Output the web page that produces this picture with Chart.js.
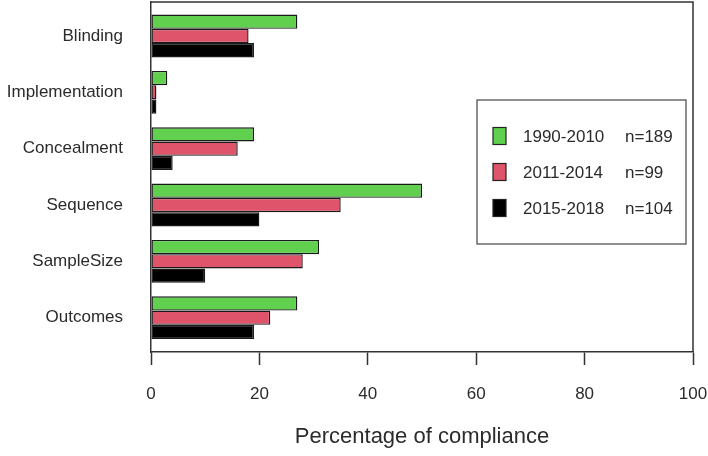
<!DOCTYPE html>
<html>
<head>
<meta charset="utf-8">
<script src="https://cdn.jsdelivr.net/npm/chart.js@4"></script>
<style>
  html, body { margin: 0; padding: 0; background: #fff; }
  #wrap { width: 708px; height: 456px; }
</style>
</head>
<body>
<div id="wrap"><canvas id="chart"></canvas></div>
<script>
/* data */
var categories = ["Blinding", "Implementation", "Concealment", "Sequence", "SampleSize", "Outcomes"];
var periods = ["1990-2010", "2011-2014", "2015-2018"];
var counts = ["n=189", "n=99", "n=104"];
var values1990 = [27, 3, 19, 50, 31, 27];
var values2011 = [18, 1, 16, 35, 28, 22];
var values2015 = [19, 1, 4, 20, 10, 19];
var xTicks = [0, 20, 40, 60, 80, 100];

var colors = ["#61D04F", "#DF536B", "#000000"];
var seriesValues = [values1990, values2011, values2015];

var textColor = "#2b2b2b";
var lineColor = "#333333";
var fontName = "'Liberation Sans', Arial, sans-serif";

// linear index axis so the plot box can extend past the groups like R
const toPoints = (vals) => vals.map(function(v, i) { return { x: v, y: i }; });

var datasets = [];
for (var s = 0; s < periods.length; s++) {
    datasets.push({
        label: periods[s],
        data: toPoints(seriesValues[s]),
        backgroundColor: colors[s],
        borderColor: "#1a1a1a",
        borderWidth: 1.4,
        borderSkipped: false,
        categoryPercentage: 0.76,
        barPercentage: 1.0
    });
}

/* box round the plot + legend inside */
var frameLegend = {
    id: "frameLegend",
    afterDraw: function(chart) {
        var ctx = chart.ctx;
        var a = chart.chartArea;
        ctx.save();
        ctx.strokeStyle = lineColor;
        ctx.lineWidth = 1.5;
        ctx.beginPath();
        ctx.moveTo(a.left, a.top);
        ctx.lineTo(a.right, a.top);
        ctx.lineTo(a.right, a.bottom);
        ctx.stroke();

        // legend
        ctx.lineWidth = 1.2;
        ctx.strokeStyle = "#444";
        ctx.fillStyle = "#fff";
        ctx.fillRect(477, 100, 209, 144);
        ctx.strokeRect(477, 100, 209, 144);

        ctx.font = "17px " + fontName;
        ctx.textBaseline = "middle";
        ctx.textAlign = "left";
        var rows = [136, 172, 208];
        chart.data.datasets.forEach(function(ds, i) {
            var y = rows[i];
            ctx.fillStyle = ds.backgroundColor;
            ctx.fillRect(493, y - 8.5, 13, 17);
            ctx.strokeStyle = "#222";
            ctx.lineWidth = 1.2;
            ctx.strokeRect(493, y - 8.5, 13, 17);
            ctx.fillStyle = textColor;
            ctx.fillText(ds.label, 523, y + 1);
            ctx.fillText(counts[i], 625, y + 1);
        });
        ctx.restore();
    }
};

window.onload = function() {
    var ctx = document.getElementById("chart").getContext("2d");
    window.theChart = new Chart(ctx, {
        type: "bar",
        data: { datasets: datasets },
        options: {
            indexAxis: "y",
            responsive: true,
            maintainAspectRatio: false,
            animation: false,
            layout: { padding: { top: 2, right: 15, left: 0, bottom: 0 } },
            plugins: {
                legend: { display: false },
                tooltip: { enabled: false }
            },
            scales: {
                x: {
                    type: "linear",
                    min: 0,
                    max: 100,
                    afterBuildTicks: function(scale) {
                        scale.ticks = xTicks.map(function(v) { return { value: v }; });
                    },
                    afterFit: function(scale) {
                        scale.height = 104;
                        scale.paddingLeft = 0;
                        scale.paddingRight = 0;
                    },
                    grid: {
                        drawOnChartArea: false,
                        tickLength: 13,
                        tickColor: lineColor,
                        tickWidth: 1.5
                    },
                    border: { color: lineColor, width: 1.5 },
                    ticks: {
                        color: textColor,
                        font: { family: fontName, size: 17 },
                        padding: 19,
                        maxRotation: 0
                    },
                    title: {
                        display: true,
                        text: "Percentage of compliance",
                        color: textColor,
                        font: { family: fontName, size: 22 },
                        padding: { top: 0, bottom: 6 }
                    }
                },
                y: {
                    type: "linear",
                    reverse: true,
                    offset: false,
                    min: -0.603,
                    max: 5.609,
                    afterFit: function(scale) {
                        scale.width = 151;
                        scale.paddingTop = 0;
                        scale.paddingBottom = 0;
                    },
                    grid: { display: false, drawTicks: false, offset: false },
                    border: { color: lineColor, width: 1.5 },
                    ticks: {
                        stepSize: 1,
                        includeBounds: false,
                        autoSkip: false,
                        padding: 28,
                        color: textColor,
                        font: { family: fontName, size: 17 },
                        callback: function(v) {
                            return Number.isInteger(v) ? categories[v] : "";
                        }
                    }
                }
            }
        },
        plugins: [frameLegend]
    });
};
</script>
</body>
</html>
